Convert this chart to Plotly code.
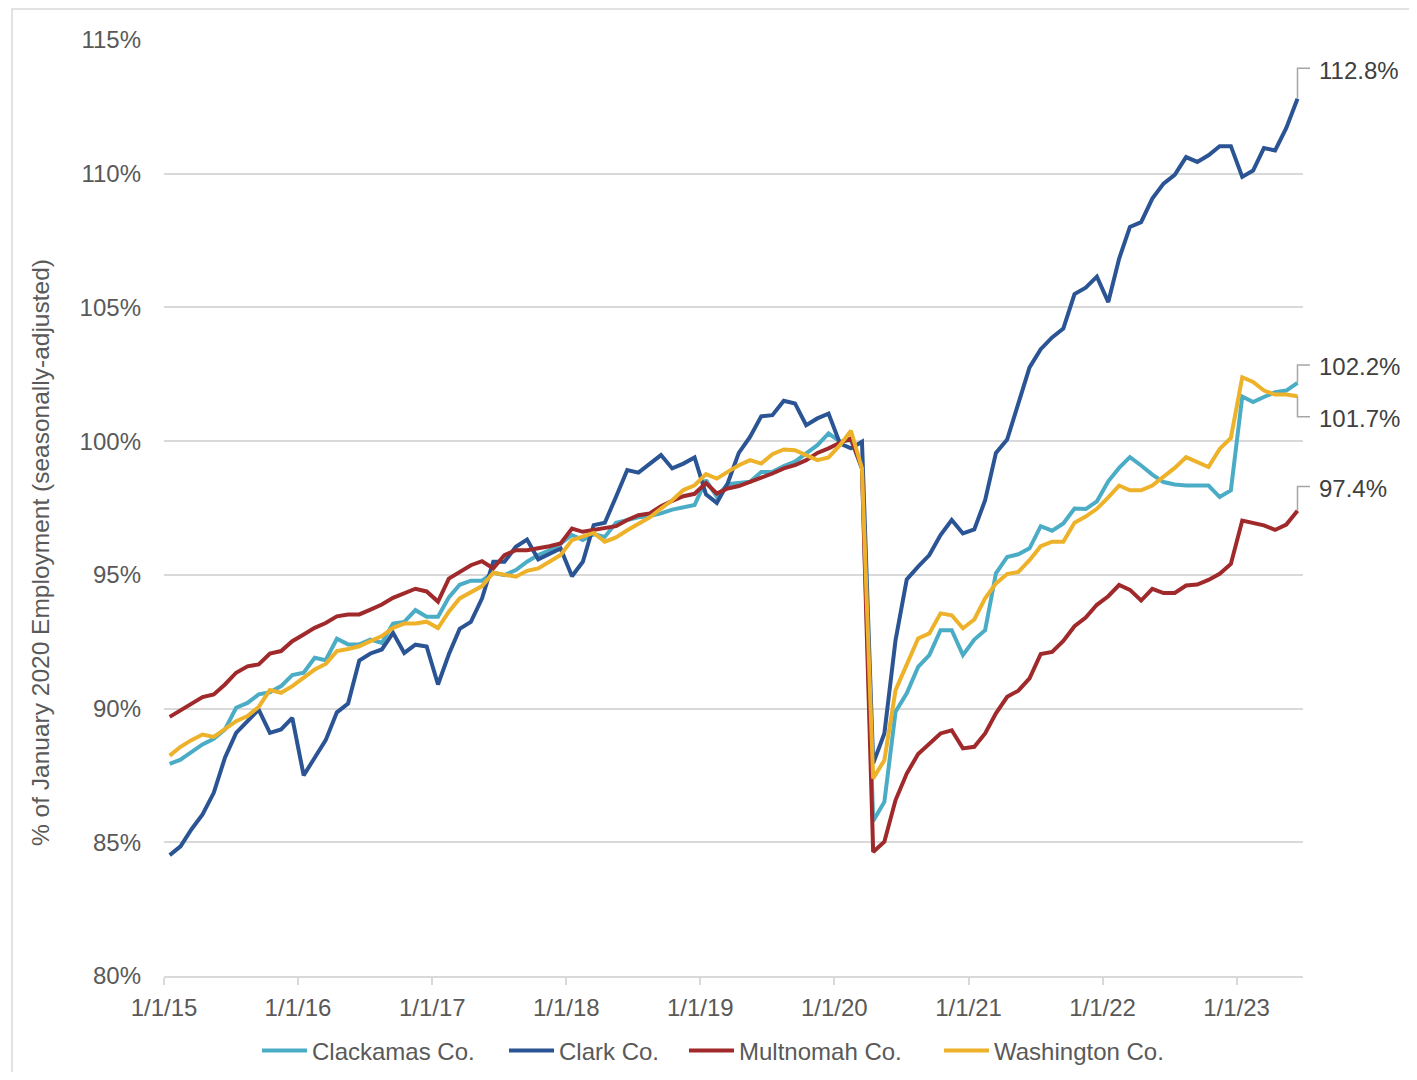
import pandas as pd
import plotly.graph_objects as go

# ---------------- data (monthly, Jan 2015 - Jun 2023, % of Jan 2020 employment) -------------
months = pd.date_range("2015-01-01", periods=102, freq="MS")

clackamas = [
    87.93, 88.09, 88.37, 88.66, 88.87, 89.22, 90.03, 90.21, 90.53, 90.61, 90.84, 91.25,
    91.34, 91.90, 91.81, 92.61, 92.40, 92.40, 92.58, 92.46, 93.18, 93.24, 93.68, 93.43,
    93.43, 94.16, 94.63, 94.78, 94.78, 95.08, 94.99, 95.18, 95.49, 95.74, 95.92, 96.17,
    96.49, 96.30, 96.52, 96.42, 96.95, 97.05, 97.15, 97.20, 97.30, 97.44, 97.54, 97.61,
    98.54, 97.92, 98.39, 98.42, 98.48, 98.85, 98.85, 99.07, 99.23, 99.54, 99.85, 100.29,
    99.98, 100.04, 98.98, 85.80, 86.51, 89.88, 90.57, 91.56, 92.00, 92.93, 92.93, 92.00,
    92.58, 92.93, 95.06, 95.67, 95.77, 95.99, 96.82, 96.65, 96.92, 97.48, 97.46, 97.75,
    98.50, 99.00, 99.40, 99.09, 98.75, 98.47, 98.38, 98.34, 98.34, 98.34, 97.91, 98.16,
    101.67, 101.46, 101.65, 101.83, 101.89, 102.18,
]
clark = [
    84.52, 84.85, 85.48, 86.04, 86.85, 88.16, 89.09, 89.53, 89.96, 89.09, 89.22, 89.65,
    87.50, 88.16, 88.82, 89.86, 90.19, 91.80, 92.06, 92.21, 92.83, 92.08, 92.39, 92.32,
    90.90, 92.03, 92.98, 93.24, 94.12, 95.49, 95.49, 96.05, 96.32, 95.58, 95.77, 95.99,
    94.95, 95.49, 96.86, 96.95, 97.92, 98.92, 98.82, 99.16, 99.48, 98.98, 99.16, 99.39,
    98.01, 97.69, 98.42, 99.56, 100.16, 100.93, 100.97, 101.51, 101.41, 100.60, 100.85, 101.03,
    99.91, 99.73, 99.98, 87.95, 89.07, 92.56, 94.83, 95.31, 95.74, 96.49, 97.05, 96.55,
    96.70, 97.79, 99.56, 100.06, 101.40, 102.76, 103.44, 103.88, 104.21, 105.50, 105.74, 106.15,
    105.20, 106.82, 108.01, 108.19, 109.07, 109.63, 109.96, 110.62, 110.44, 110.69, 111.03, 111.03,
    109.88, 110.12, 110.96, 110.87, 111.71, 112.80,
]
multnomah = [
    89.69, 89.94, 90.15, 90.43, 90.53, 90.90, 91.34, 91.58, 91.65, 92.06, 92.15, 92.52,
    92.77, 93.02, 93.20, 93.45, 93.52, 93.52, 93.70, 93.89, 94.14, 94.30, 94.48, 94.38,
    94.00, 94.86, 95.11, 95.36, 95.51, 95.24, 95.74, 95.92, 95.92, 95.99, 96.07, 96.17,
    96.73, 96.61, 96.67, 96.73, 96.82, 97.05, 97.23, 97.30, 97.57, 97.77, 97.94, 98.03,
    98.43, 98.04, 98.23, 98.32, 98.48, 98.60, 98.79, 98.98, 99.10, 99.29, 99.56, 99.73,
    99.94, 100.10, 98.98, 84.64, 85.02, 86.58, 87.57, 88.30, 88.70, 89.07, 89.19, 88.51,
    88.57, 89.07, 89.82, 90.44, 90.67, 91.13, 92.04, 92.12, 92.53, 93.08, 93.40, 93.88,
    94.20, 94.62, 94.44, 94.04, 94.48, 94.32, 94.32, 94.60, 94.64, 94.81, 95.04, 95.41,
    97.03, 96.93, 96.85, 96.68, 96.88, 97.40,
]
washington = [
    88.24, 88.57, 88.82, 89.03, 88.94, 89.22, 89.53, 89.72, 90.06, 90.69, 90.59, 90.84,
    91.15, 91.46, 91.67, 92.15, 92.23, 92.33, 92.52, 92.71, 93.02, 93.18, 93.18, 93.25,
    93.01, 93.62, 94.12, 94.37, 94.58, 95.08, 95.01, 94.93, 95.15, 95.24, 95.49, 95.74,
    96.30, 96.45, 96.57, 96.24, 96.40, 96.67, 96.90, 97.15, 97.48, 97.79, 98.17, 98.35,
    98.77, 98.60, 98.85, 99.10, 99.29, 99.16, 99.51, 99.69, 99.66, 99.48, 99.29, 99.39,
    99.85, 100.39, 98.98, 87.39, 88.07, 90.69, 91.69, 92.62, 92.81, 93.56, 93.49, 93.00,
    93.33, 94.12, 94.68, 95.03, 95.11, 95.55, 96.07, 96.24, 96.24, 96.95, 97.18, 97.47,
    97.90, 98.34, 98.16, 98.16, 98.34, 98.68, 99.00, 99.40, 99.21, 99.03, 99.71, 100.12,
    102.39, 102.21, 101.89, 101.74, 101.74, 101.68,
]

series_names = ["Clackamas Co.", "Clark Co.", "Multnomah Co.", "Washington Co."]
series_values = [clackamas, clark, multnomah, washington]
series_colors = ["#4BACC6", "#2B5494", "#A0292B", "#EDB22A"]
label_offsets = [0.67, 1.14, 0.90, -0.77]   # callout label offset (in % points) from last value
legend_starts = [263, 510, 690, 945]         # page x where each legend entry starts

y_ticks = [80, 85, 90, 95, 100, 105, 110, 115]
y_tick_text = ["80%", "85%", "90%", "95%", "100%", "105%", "110%", "115%"]

# ---------------- figure geometry (page has an 8px body margin) ----------------
BODY = 8
W, H = 1417 - 2 * BODY, 1080 - 2 * BODY
PL, PR, PT, PB = 164, 1303, 40, 976          # plot area in page pixels
ML, MT = PL - BODY, PT - BODY
MR, MB = W - (PR - BODY), H - (PB - BODY)
PW, PH = PR - PL, PB - PT


def px_x(p):
    """page pixel x -> paper x"""
    return (p - PL) / PW


def px_y(p):
    """page pixel y -> paper y"""
    return (PB - p) / PH


x_start = pd.Timestamp("2015-01-01")
x_end = pd.Timestamp("2023-07-01")

FONT = "Liberation Sans, Arial, sans-serif"
GRAY_TXT = "#595959"

fig = go.Figure()
for k, (name, vals, col) in enumerate(zip(series_names, series_values, series_colors)):
    fig.add_trace(go.Scatter(
        x=months, y=vals, name=name, mode="lines",
        xperiod="M1", xperiodalignment="middle",
        line=dict(color=col, width=4),
        legend="legend" if k == 0 else f"legend{k + 1}",
    ))

# callout brackets + end labels
last_mid = months[-1] + (months[-1] + pd.offsets.MonthBegin(1) - months[-1]) / 2
x_last_paper = (last_mid - x_start) / (x_end - x_start)
x_tick_end = px_x(PR + 7)
shapes = []
annotations = []
for vals, off in zip(series_values, label_offsets):
    v0 = vals[-1]
    vl = v0 + off
    shapes.append(dict(
        type="path", xref="paper", yref="y",
        path=f"M {x_last_paper},{v0} L {x_last_paper},{vl} L {x_tick_end},{vl}",
        line=dict(color="#A6A6A6", width=1.5),
    ))
    annotations.append(dict(
        xref="paper", yref="y", x=px_x(PR + 14), y=vl, yshift=-2,
        xanchor="left", yanchor="middle", showarrow=False,
        text=f"{v0:.1f}%", font=dict(family=FONT, size=24, color="#404040"),
    ))

# chart border (left & top edges visible)
shapes.append(dict(
    type="rect", xref="paper", yref="paper", layer="below",
    x0=px_x(12), x1=px_x(1417 + 40), y0=px_y(1080 + 40), y1=px_y(9),
    line=dict(color="#D9D9D9", width=1.5), fillcolor="rgba(0,0,0,0)",
))

# y-axis title
annotations.append(dict(
    xref="paper", yref="paper", x=px_x(40), y=px_y(553),
    text="% of January 2020 Employment (seasonally-adjusted)", textangle=-90,
    showarrow=False, xanchor="center", yanchor="middle",
    font=dict(family=FONT, size=24.5, color=GRAY_TXT),
))

legends = {}
for k, xs in enumerate(legend_starts):
    key = "legend" if k == 0 else f"legend{k + 1}"
    legends[key] = dict(
        orientation="h", x=px_x(xs - 6), y=px_y(1051), xanchor="left", yanchor="middle",
        font=dict(family=FONT, size=24, color=GRAY_TXT),
        bgcolor="rgba(0,0,0,0)", itemwidth=45,
    )

fig.update_layout(
    width=W, height=H,
    margin=dict(l=ML, r=MR, t=MT, b=MB, pad=0, autoexpand=False),
    paper_bgcolor="white", plot_bgcolor="white",
    font=dict(family=FONT, size=24, color=GRAY_TXT),
    showlegend=True,
    shapes=shapes, annotations=annotations,
    **legends,
)

fig.update_xaxes(
    type="date", range=[x_start, x_end], automargin=False,
    tick0="2015-01-01", dtick="M12", tickformat="%-m/%-d/%y",
    showgrid=False, zeroline=False,
    showline=True, linecolor="#D9D9D9", linewidth=1.5,
    ticks="outside", ticklen=7, tickcolor="#D9D9D9", tickwidth=1.5,
    ticklabelstandoff=2,
    tickfont=dict(family=FONT, size=24, color=GRAY_TXT),
)
fig.update_yaxes(
    range=[80, 115], tickvals=y_ticks, ticktext=y_tick_text, automargin=False,
    showgrid=True, gridcolor="#D9D9D9", gridwidth=1.5,
    zeroline=False, showline=False, ticks="",
    ticklabelstandoff=22,
    tickfont=dict(family=FONT, size=24, color=GRAY_TXT),
)

fig.write_html("out.html")
